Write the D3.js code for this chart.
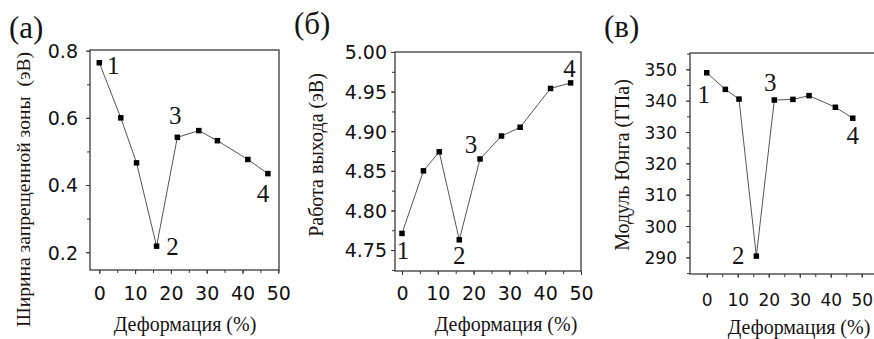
<!DOCTYPE html>
<html lang="ru">
<head>
<meta charset="utf-8">
<title>Деформация</title>
<script src="https://cdn.jsdelivr.net/npm/d3@7/dist/d3.min.js"></script>
<style>
  body { margin: 0; background: #fff; }
  .tick text { font-family: "DejaVu Sans", sans-serif; fill: #111; }
  .tick line { stroke: #333; }
  .domain { display: none; }
</style>
</head>
<body>
<script>
// strain values (%) shared by all three panels
var strain = [0, 6, 10.4, 16, 21.8, 27.8, 33, 41.5, 47.1];
// (a) band gap, eV
var bandGap = [0.764, 0.600, 0.466, 0.218, 0.542, 0.562, 0.532, 0.476, 0.434];
// (б) work function, eV
var workFunction = [4.771, 4.850, 4.874, 4.763, 4.865, 4.894, 4.905, 4.954, 4.961];
// (в) Young's modulus, GPa
var youngModulus = [348.9, 343.6, 340.5, 290.4, 340.2, 340.4, 341.6, 337.9, 334.4];

var xTicks = [0, 10, 20, 30, 40, 50];
var bandGapTicks = [0.2, 0.4, 0.6, 0.8];
var workTicks = [4.75, 4.80, 4.85, 4.90, 4.95, 5.00];
var youngTicks = [290, 300, 310, 320, 330, 340, 350];

var pointLabels = ["1", "2", "3", "4"];
var labelIndex = [0, 3, 4, 8];
var panelLetters = ["(a)", "(б)", "(в)"];
var yTitles = ["Ширина запрещенной зоны  (эВ)", "Работа выхода (эВ)", "Модуль Юнга (ГПа)"];
var xTitle = "Деформация (%)";

var w = 874, h = 339;
var serif = "'Liberation Serif', 'DejaVu Serif', 'Times New Roman', serif";

var panels = [
  { values: bandGap, ticks: bandGapTicks, fmt: ".1f", minorStep: 0.1,
    left: 90, right: 279, top: 50, bottom: 270,
    xdom: [-2.6, 50.2], ydom: [0.147, 0.802],
    fs: 19, ygap: 12, xlab: 30,
    letter: [9, 38], ytitle: { x: 30, y: 52, anchor: "end", fs: 19.6 },
    xtitle: [185, 331],
    offs: [[14, 11], [16, 9], [-2, -13], [-5, 28]] },
  { values: workFunction, ticks: workTicks, fmt: ".2f", minorStep: 0.025,
    left: 395, right: 581, top: 52, bottom: 271,
    xdom: [-1.95, 50], ydom: [4.7236, 5.0],
    fs: 19, ygap: 8, xlab: 29,
    letter: [294, 34], ytitle: { x: 323, y: 155, anchor: "middle", fs: 20 },
    xtitle: [506, 331],
    offs: [[1, 26], [0, 24], [-9, -6], [-1, -6]] },
  { values: youngModulus, ticks: youngTicks, fmt: "d", minorStep: 5,
    left: 690, right: 876, top: 53, bottom: 274,
    xdom: [-5.4, 54.6], ydom: [284.7, 355.2],
    fs: 17, ygap: 13, xlab: 32,
    letter: [604, 37], ytitle: { x: 629, y: 165, anchor: "middle", fs: 20 },
    xtitle: [799, 334],
    offs: [[-3, 30], [-18, 8], [-4, -9], [0, 26]] }
];

var svg = d3.select("body").append("svg")
  .attr("width", w)
  .attr("height", h);

panels.forEach(function(p, k) {
  var x = d3.scaleLinear().domain(p.xdom).range([p.left, p.right]);
  var y = d3.scaleLinear().domain(p.ydom).range([p.bottom, p.top]);
  var g = svg.append("g");

  // minor ticks every 5 % and half step on y
  var xMinor = d3.range(0, 51, 5);
  var yMinor = d3.range(p.ticks[0] - p.minorStep, p.ydom[1] + 1e-9, p.minorStep)
    .filter(function(v) { return v >= p.ydom[0]; });

  g.append("g").attr("transform", "translate(0," + p.bottom + ")")
    .call(d3.axisBottom(x).tickValues(xMinor).tickSize(3).tickFormat(""));
  g.append("g").attr("transform", "translate(" + p.left + ",0)")
    .call(d3.axisLeft(y).tickValues(yMinor).tickSize(3).tickFormat(""));

  var xa = g.append("g").attr("transform", "translate(0," + p.bottom + ")")
    .call(d3.axisBottom(x).tickValues(xTicks).tickSize(4));
  xa.selectAll("text").attr("y", p.xlab).attr("dy", 0).style("font-size", p.fs + "px");

  var ya = g.append("g").attr("transform", "translate(" + p.left + ",0)")
    .call(d3.axisLeft(y).tickValues(p.ticks).tickSize(4).tickFormat(d3.format(p.fmt)));
  ya.selectAll("text").attr("x", -p.ygap).attr("dy", "0.36em").style("font-size", p.fs + "px");

  // frame
  g.append("rect")
    .attr("x", p.left).attr("y", p.top)
    .attr("width", p.right - p.left).attr("height", p.bottom - p.top)
    .attr("fill", "none").attr("stroke", "#3a3a3a").attr("stroke-width", 1.3);

  var line = d3.line()
    .x(function(d, i) { return x(strain[i]); })
    .y(function(d) { return y(d); });

  g.append("path").datum(p.values)
    .attr("d", line)
    .attr("fill", "none")
    .attr("stroke", "#555")
    .attr("stroke-width", 1);

  g.selectAll("rect.pt").data(p.values).enter()
    .append("rect").attr("class", "pt")
    .attr("x", function(d, i) { return x(strain[i]) - 2.75; })
    .attr("y", function(d) { return y(d) - 2.75; })
    .attr("width", 5.5).attr("height", 5.5)
    .attr("fill", "#000");

  g.selectAll("text.num").data(labelIndex).enter()
    .append("text").attr("class", "num")
    .attr("text-anchor", "middle")
    .attr("x", function(idx, j) { return x(strain[idx]) + p.offs[j][0]; })
    .attr("y", function(idx, j) { return y(p.values[idx]) + p.offs[j][1]; })
    .style("font-family", serif).style("font-size", "25px").style("fill", "#151515")
    .text(function(idx, j) { return pointLabels[j]; });

  g.append("text")
    .attr("x", p.letter[0]).attr("y", p.letter[1])
    .style("font-family", serif).style("font-size", "31px").style("fill", "#151515")
    .text(panelLetters[k]);

  g.append("text")
    .attr("text-anchor", "middle")
    .attr("x", p.xtitle[0]).attr("y", p.xtitle[1])
    .style("font-family", serif).style("font-size", "20px").style("fill", "#151515")
    .text(xTitle);

  g.append("text")
    .attr("text-anchor", p.ytitle.anchor)
    .attr("transform", "translate(" + p.ytitle.x + "," + p.ytitle.y + ") rotate(-90)")
    .style("font-family", serif).style("font-size", p.ytitle.fs + "px")
    .style("white-space", "pre").style("fill", "#1a1410")
    .text(yTitles[k]);
});
</script>
</body>
</html>
